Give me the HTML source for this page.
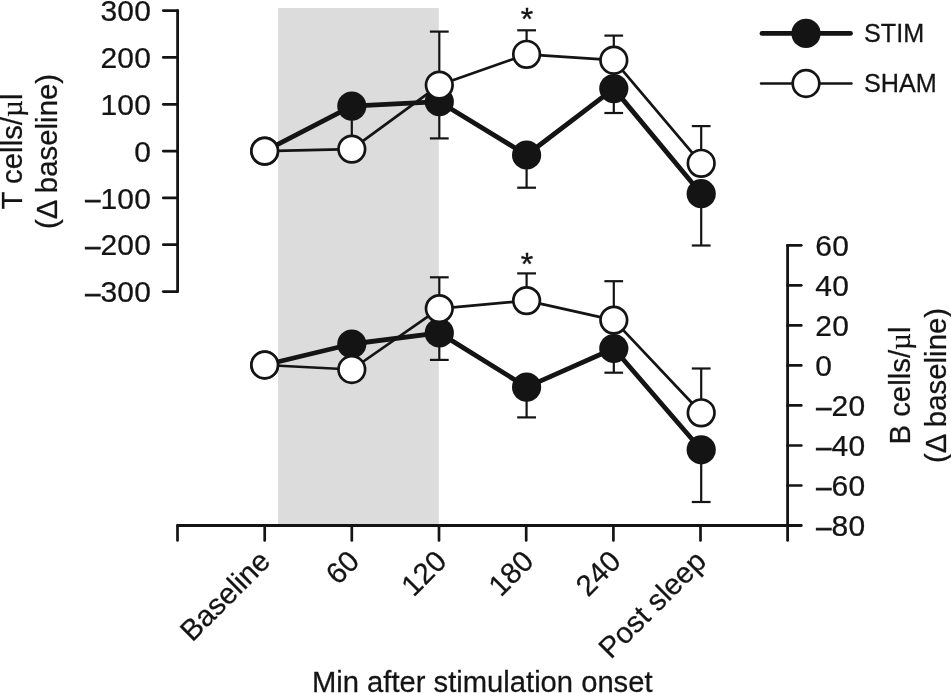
<!DOCTYPE html>
<html lang="en"><head><meta charset="utf-8"><title>Chart</title>
<style>html,body{margin:0;padding:0;background:#fff}svg{display:block}text{stroke:#141414;stroke-width:0.25px}</style>
</head><body>
<svg width="951" height="693" viewBox="0 0 951 693" font-family='"Liberation Sans", sans-serif' fill="#141414">
<rect x="0" y="0" width="951" height="693" fill="#fff"/>
<rect x="278" y="8" width="160.8" height="517" fill="#dcdcdc"/>
<line x1="177.6" y1="10.6" x2="177.6" y2="291.6" stroke="#141414" stroke-width="2.8" stroke-linecap="round"/>
<line x1="163.3" y1="10.6" x2="177.6" y2="10.6" stroke="#141414" stroke-width="2.7" stroke-linecap="round"/>
<line x1="163.3" y1="57.4" x2="177.6" y2="57.4" stroke="#141414" stroke-width="2.7" stroke-linecap="round"/>
<line x1="163.3" y1="104.3" x2="177.6" y2="104.3" stroke="#141414" stroke-width="2.7" stroke-linecap="round"/>
<line x1="163.3" y1="151.1" x2="177.6" y2="151.1" stroke="#141414" stroke-width="2.7" stroke-linecap="round"/>
<line x1="163.3" y1="197.9" x2="177.6" y2="197.9" stroke="#141414" stroke-width="2.7" stroke-linecap="round"/>
<line x1="163.3" y1="244.7" x2="177.6" y2="244.7" stroke="#141414" stroke-width="2.7" stroke-linecap="round"/>
<line x1="163.3" y1="291.6" x2="177.6" y2="291.6" stroke="#141414" stroke-width="2.7" stroke-linecap="round"/>
<line x1="787.6" y1="245.3" x2="787.6" y2="540.4" stroke="#141414" stroke-width="2.8" stroke-linecap="round"/>
<line x1="787.6" y1="245.3" x2="801.3" y2="245.3" stroke="#141414" stroke-width="2.7" stroke-linecap="round"/>
<line x1="787.6" y1="285.3" x2="801.3" y2="285.3" stroke="#141414" stroke-width="2.7" stroke-linecap="round"/>
<line x1="787.6" y1="325.4" x2="801.3" y2="325.4" stroke="#141414" stroke-width="2.7" stroke-linecap="round"/>
<line x1="787.6" y1="365.4" x2="801.3" y2="365.4" stroke="#141414" stroke-width="2.7" stroke-linecap="round"/>
<line x1="787.6" y1="405.4" x2="801.3" y2="405.4" stroke="#141414" stroke-width="2.7" stroke-linecap="round"/>
<line x1="787.6" y1="445.5" x2="801.3" y2="445.5" stroke="#141414" stroke-width="2.7" stroke-linecap="round"/>
<line x1="787.6" y1="485.5" x2="801.3" y2="485.5" stroke="#141414" stroke-width="2.7" stroke-linecap="round"/>
<line x1="177.6" y1="525.5" x2="801.3" y2="525.5" stroke="#141414" stroke-width="2.8" stroke-linecap="round"/>
<line x1="177.5" y1="525.5" x2="177.5" y2="540.4" stroke="#141414" stroke-width="2.7" stroke-linecap="round"/>
<line x1="264.7" y1="525.5" x2="264.7" y2="540.4" stroke="#141414" stroke-width="2.7" stroke-linecap="round"/>
<line x1="351.8" y1="525.5" x2="351.8" y2="540.4" stroke="#141414" stroke-width="2.7" stroke-linecap="round"/>
<line x1="439.0" y1="525.5" x2="439.0" y2="540.4" stroke="#141414" stroke-width="2.7" stroke-linecap="round"/>
<line x1="526.2" y1="525.5" x2="526.2" y2="540.4" stroke="#141414" stroke-width="2.7" stroke-linecap="round"/>
<line x1="613.4" y1="525.5" x2="613.4" y2="540.4" stroke="#141414" stroke-width="2.7" stroke-linecap="round"/>
<line x1="700.5" y1="525.5" x2="700.5" y2="540.4" stroke="#141414" stroke-width="2.7" stroke-linecap="round"/>
<text transform="translate(151.0 21.3) scale(1 0.965)" font-size="30" letter-spacing="0.15" text-anchor="end">300</text>
<text transform="translate(151.0 68.1) scale(1 0.965)" font-size="30" letter-spacing="0.15" text-anchor="end">200</text>
<text transform="translate(151.0 115.0) scale(1 0.965)" font-size="30" letter-spacing="0.15" text-anchor="end">100</text>
<text transform="translate(151.0 161.8) scale(1 0.965)" font-size="30" letter-spacing="0.15" text-anchor="end">0</text>
<text transform="translate(151.0 208.6) scale(1 0.965)" font-size="30" letter-spacing="0.15" text-anchor="end"><tspan font-size="27" dy="-0.6" style="stroke-width:0.8px">–</tspan><tspan dy="0.6">100</tspan></text>
<text transform="translate(151.0 255.4) scale(1 0.965)" font-size="30" letter-spacing="0.15" text-anchor="end"><tspan font-size="27" dy="-0.6" style="stroke-width:0.8px">–</tspan><tspan dy="0.6">200</tspan></text>
<text transform="translate(151.0 302.3) scale(1 0.965)" font-size="30" letter-spacing="0.15" text-anchor="end"><tspan font-size="27" dy="-0.6" style="stroke-width:0.8px">–</tspan><tspan dy="0.6">300</tspan></text>
<text transform="translate(815.3 256.0) scale(1 0.965)" font-size="30" letter-spacing="0.3">60</text>
<text transform="translate(815.3 296.0) scale(1 0.965)" font-size="30" letter-spacing="0.3">40</text>
<text transform="translate(815.3 336.1) scale(1 0.965)" font-size="30" letter-spacing="0.3">20</text>
<text transform="translate(815.3 376.1) scale(1 0.965)" font-size="30" letter-spacing="0.3">0</text>
<text transform="translate(816.3 416.1) scale(1 0.965)" font-size="30" letter-spacing="0.3"><tspan font-size="27" dy="-0.6" style="stroke-width:0.8px">–</tspan><tspan dy="0.6">20</tspan></text>
<text transform="translate(816.3 456.2) scale(1 0.965)" font-size="30" letter-spacing="0.3"><tspan font-size="27" dy="-0.6" style="stroke-width:0.8px">–</tspan><tspan dy="0.6">40</tspan></text>
<text transform="translate(816.3 496.2) scale(1 0.965)" font-size="30" letter-spacing="0.3"><tspan font-size="27" dy="-0.6" style="stroke-width:0.8px">–</tspan><tspan dy="0.6">60</tspan></text>
<text transform="translate(816.3 536.2) scale(1 0.965)" font-size="30" letter-spacing="0.3"><tspan font-size="27" dy="-0.6" style="stroke-width:0.8px">–</tspan><tspan dy="0.6">80</tspan></text>
<text transform="translate(271.9 563.0) rotate(-45)" font-size="29.4" text-anchor="end">Baseline</text>
<text transform="translate(361.0 563.0) rotate(-45)" font-size="29.4" text-anchor="end">60</text>
<text transform="translate(448.2 563.0) rotate(-45)" font-size="29.4" text-anchor="end">120</text>
<text transform="translate(535.4 563.0) rotate(-45)" font-size="29.4" text-anchor="end">180</text>
<text transform="translate(622.6 563.0) rotate(-45)" font-size="29.4" text-anchor="end">240</text>
<text transform="translate(707.7 563.0) rotate(-45)" font-size="29.4" text-anchor="end">Post sleep</text>
<text transform="translate(312 692.4) scale(1 1.04)" font-size="29.2">Min after stimulation onset</text>
<text transform="translate(21.9 151.5) rotate(-90)" font-size="29.4" text-anchor="middle">T cells/<tspan font-family="Liberation Serif, serif">µ</tspan>l</text>
<text transform="translate(57.2 151.5) rotate(-90)" font-size="29.4" text-anchor="middle">(Δ baseline)</text>
<text transform="translate(910 385.5) rotate(-90)" font-size="29.4" text-anchor="middle">B cells/<tspan font-family="Liberation Serif, serif">µ</tspan>l</text>
<text transform="translate(945.5 385.5) rotate(-90)" font-size="29.4" text-anchor="middle">(Δ baseline)</text>
<line x1="351.8" y1="106.1" x2="351.8" y2="149.1" stroke="#141414" stroke-width="2.2" stroke-linecap="butt"/>
<line x1="439.3" y1="85.1" x2="439.3" y2="31.6" stroke="#141414" stroke-width="2.2" stroke-linecap="butt"/>
<line x1="429.9" y1="31.6" x2="448.7" y2="31.6" stroke="#141414" stroke-width="2.2" stroke-linecap="butt"/>
<line x1="439.3" y1="101.7" x2="439.3" y2="138.4" stroke="#141414" stroke-width="2.2" stroke-linecap="butt"/>
<line x1="429.9" y1="138.4" x2="448.7" y2="138.4" stroke="#141414" stroke-width="2.2" stroke-linecap="butt"/>
<line x1="526.6" y1="54.3" x2="526.6" y2="30.3" stroke="#141414" stroke-width="2.2" stroke-linecap="butt"/>
<line x1="517.2" y1="30.3" x2="536.0" y2="30.3" stroke="#141414" stroke-width="2.2" stroke-linecap="butt"/>
<line x1="526.6" y1="155.0" x2="526.6" y2="187.7" stroke="#141414" stroke-width="2.2" stroke-linecap="butt"/>
<line x1="517.2" y1="187.7" x2="536.0" y2="187.7" stroke="#141414" stroke-width="2.2" stroke-linecap="butt"/>
<line x1="613.8" y1="60.2" x2="613.8" y2="35.6" stroke="#141414" stroke-width="2.2" stroke-linecap="butt"/>
<line x1="604.4" y1="35.6" x2="623.1" y2="35.6" stroke="#141414" stroke-width="2.2" stroke-linecap="butt"/>
<line x1="613.8" y1="88.6" x2="613.8" y2="113.0" stroke="#141414" stroke-width="2.2" stroke-linecap="butt"/>
<line x1="604.4" y1="113.0" x2="623.1" y2="113.0" stroke="#141414" stroke-width="2.2" stroke-linecap="butt"/>
<line x1="701.2" y1="163.3" x2="701.2" y2="126.1" stroke="#141414" stroke-width="2.2" stroke-linecap="butt"/>
<line x1="691.8" y1="126.1" x2="710.6" y2="126.1" stroke="#141414" stroke-width="2.2" stroke-linecap="butt"/>
<line x1="701.2" y1="193.7" x2="701.2" y2="245.5" stroke="#141414" stroke-width="2.2" stroke-linecap="butt"/>
<line x1="691.8" y1="245.5" x2="710.6" y2="245.5" stroke="#141414" stroke-width="2.2" stroke-linecap="butt"/>
<line x1="439.3" y1="308.6" x2="439.3" y2="277.3" stroke="#141414" stroke-width="2.2" stroke-linecap="butt"/>
<line x1="429.9" y1="277.3" x2="448.7" y2="277.3" stroke="#141414" stroke-width="2.2" stroke-linecap="butt"/>
<line x1="439.3" y1="332.9" x2="439.3" y2="359.9" stroke="#141414" stroke-width="2.2" stroke-linecap="butt"/>
<line x1="429.9" y1="359.9" x2="448.7" y2="359.9" stroke="#141414" stroke-width="2.2" stroke-linecap="butt"/>
<line x1="526.6" y1="300.6" x2="526.6" y2="273.4" stroke="#141414" stroke-width="2.2" stroke-linecap="butt"/>
<line x1="517.2" y1="273.4" x2="536.0" y2="273.4" stroke="#141414" stroke-width="2.2" stroke-linecap="butt"/>
<line x1="526.6" y1="387.1" x2="526.6" y2="417.4" stroke="#141414" stroke-width="2.2" stroke-linecap="butt"/>
<line x1="517.2" y1="417.4" x2="536.0" y2="417.4" stroke="#141414" stroke-width="2.2" stroke-linecap="butt"/>
<line x1="613.8" y1="320.1" x2="613.8" y2="281.2" stroke="#141414" stroke-width="2.2" stroke-linecap="butt"/>
<line x1="604.4" y1="281.2" x2="623.1" y2="281.2" stroke="#141414" stroke-width="2.2" stroke-linecap="butt"/>
<line x1="613.8" y1="348.5" x2="613.8" y2="372.7" stroke="#141414" stroke-width="2.2" stroke-linecap="butt"/>
<line x1="604.4" y1="372.7" x2="623.1" y2="372.7" stroke="#141414" stroke-width="2.2" stroke-linecap="butt"/>
<line x1="701.2" y1="412.8" x2="701.2" y2="368.5" stroke="#141414" stroke-width="2.2" stroke-linecap="butt"/>
<line x1="691.8" y1="368.5" x2="710.6" y2="368.5" stroke="#141414" stroke-width="2.2" stroke-linecap="butt"/>
<line x1="701.2" y1="449.8" x2="701.2" y2="502.0" stroke="#141414" stroke-width="2.2" stroke-linecap="butt"/>
<line x1="691.8" y1="502.0" x2="710.6" y2="502.0" stroke="#141414" stroke-width="2.2" stroke-linecap="butt"/>
<polyline points="264.7,151.1 351.8,106.1 439.3,101.7 526.6,155.0 613.8,88.6 701.2,193.7" fill="none" stroke="#141414" stroke-width="4.8" stroke-linejoin="round"/>
<polyline points="264.7,151.1 351.8,149.1 439.3,85.1 526.6,54.3 613.8,60.2 701.2,163.3" fill="none" stroke="#141414" stroke-width="2.7" stroke-linejoin="round"/>
<circle cx="264.7" cy="151.1" r="14.6" fill="#141414"/>
<circle cx="351.8" cy="106.1" r="14.6" fill="#141414"/>
<circle cx="439.3" cy="101.7" r="14.6" fill="#141414"/>
<circle cx="526.6" cy="155.0" r="14.6" fill="#141414"/>
<circle cx="613.8" cy="88.6" r="14.6" fill="#141414"/>
<circle cx="701.2" cy="193.7" r="14.6" fill="#141414"/>
<circle cx="264.7" cy="151.1" r="13.3" fill="#fff" stroke="#141414" stroke-width="2.7"/>
<circle cx="351.8" cy="149.1" r="13.3" fill="#fff" stroke="#141414" stroke-width="2.7"/>
<circle cx="439.3" cy="85.1" r="13.3" fill="#fff" stroke="#141414" stroke-width="2.7"/>
<circle cx="526.6" cy="54.3" r="13.3" fill="#fff" stroke="#141414" stroke-width="2.7"/>
<circle cx="613.8" cy="60.2" r="13.3" fill="#fff" stroke="#141414" stroke-width="2.7"/>
<circle cx="701.2" cy="163.3" r="13.3" fill="#fff" stroke="#141414" stroke-width="2.7"/>
<polyline points="264.7,365.0 351.8,344.0 439.3,332.9 526.6,387.1 613.8,348.5 701.2,449.8" fill="none" stroke="#141414" stroke-width="4.8" stroke-linejoin="round"/>
<polyline points="264.7,365.0 351.8,369.5 439.3,308.6 526.6,300.6 613.8,320.1 701.2,412.8" fill="none" stroke="#141414" stroke-width="2.7" stroke-linejoin="round"/>
<circle cx="264.7" cy="365.0" r="14.6" fill="#141414"/>
<circle cx="351.8" cy="344.0" r="14.6" fill="#141414"/>
<circle cx="439.3" cy="332.9" r="14.6" fill="#141414"/>
<circle cx="526.6" cy="387.1" r="14.6" fill="#141414"/>
<circle cx="613.8" cy="348.5" r="14.6" fill="#141414"/>
<circle cx="701.2" cy="449.8" r="14.6" fill="#141414"/>
<circle cx="264.7" cy="365.0" r="13.3" fill="#fff" stroke="#141414" stroke-width="2.7"/>
<circle cx="351.8" cy="369.5" r="13.3" fill="#fff" stroke="#141414" stroke-width="2.7"/>
<circle cx="439.3" cy="308.6" r="13.3" fill="#fff" stroke="#141414" stroke-width="2.7"/>
<circle cx="526.6" cy="300.6" r="13.3" fill="#fff" stroke="#141414" stroke-width="2.7"/>
<circle cx="613.8" cy="320.1" r="13.3" fill="#fff" stroke="#141414" stroke-width="2.7"/>
<circle cx="701.2" cy="412.8" r="13.3" fill="#fff" stroke="#141414" stroke-width="2.7"/>
<text x="527.1" y="29.7" font-size="32" style="stroke-width:0.4px" text-anchor="middle">*</text>
<text x="527.1" y="274.7" font-size="32" style="stroke-width:0.4px" text-anchor="middle">*</text>
<line x1="762.0" y1="33.4" x2="850.5" y2="33.4" stroke="#141414" stroke-width="4.8" stroke-linecap="round"/>
<circle cx="806.0" cy="33.4" r="14.6" fill="#141414"/>
<line x1="761.0" y1="83.5" x2="851.5" y2="83.5" stroke="#141414" stroke-width="2.4" stroke-linecap="round"/>
<circle cx="806.0" cy="83.5" r="13.3" fill="#fff" stroke="#141414" stroke-width="2.7"/>
<text transform="translate(864 41.8) scale(1 1.05)" font-size="25.2">STIM</text>
<text transform="translate(864 92.2) scale(1 1.05)" font-size="25.2">SHAM</text>
</svg>
</body></html>
